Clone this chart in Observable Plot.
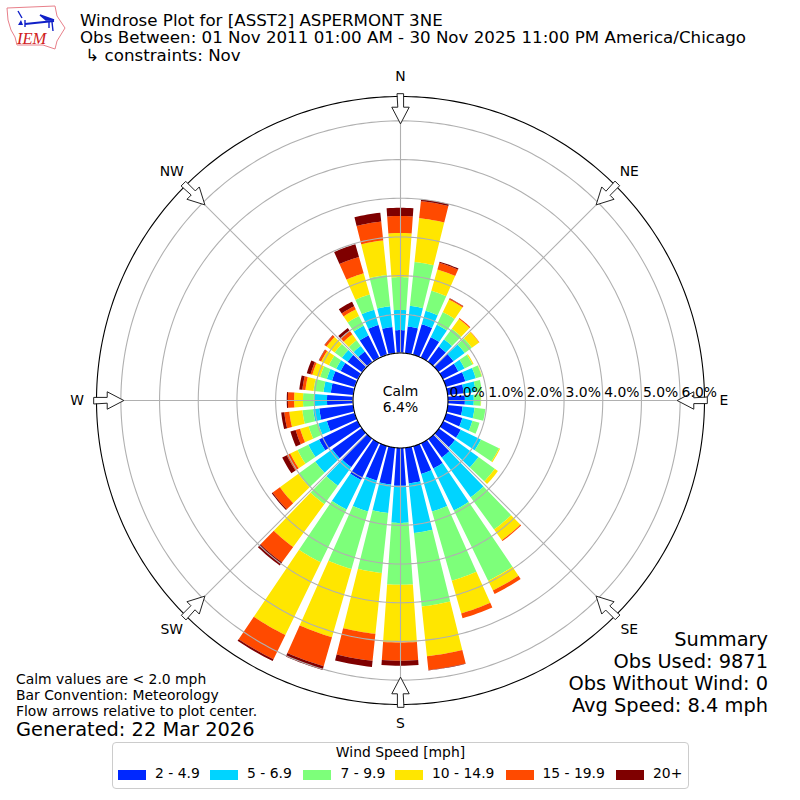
<!DOCTYPE html>
<html><head><meta charset="utf-8">
<script src="https://cdn.jsdelivr.net/npm/d3@7"></script>
<script src="https://cdn.jsdelivr.net/npm/@observablehq/plot@0.6"></script>
<style>
html,body{margin:0;padding:0;background:#fff}
#wrap{position:relative;width:800px;height:800px;font-family:"DejaVu Sans",sans-serif;color:#000;overflow:hidden}
#wrap svg{display:block}
.t{position:absolute;white-space:pre;line-height:1}
#legend{position:absolute;left:112px;top:742px;width:575px;height:45px;border:1px solid #ccc;border-radius:4px;background:#fff}
.sw{position:absolute;top:27px;width:28px;height:10px}
</style></head><body><div id="wrap"></div>
<script>
const directions = d3.range(0, 360, 10);
const speedBands = ["2 - 4.9","5 - 6.9","7 - 9.9","10 - 14.9","15 - 19.9","20+"];
const bandColors = ["#0028ff","#00d4ff","#7dff7a","#ffe600","#ff4a00","#7f0000"];
const s2to5   = [.58,.68,.81,.58,.48,.48,.45,.53,.43,.45,.40,.45,.52,.53,.61,.74,.76,.94,.99,.97,.94,1.07,.92,.94,1.10,.74,.87,.66,.57,.60,.48,.45,.32,.63,.79,.67];
const s5to7   = [.52,.54,.36,.36,.23,.36,.18,.28,.31,.23,.31,.27,.58,.75,1.27,1.21,1.01,1.29,.96,.74,.83,.85,.59,.54,.31,.23,.16,.34,.19,.14,.13,.18,.18,.28,.41,.54];
const s7to10  = [.85,1.14,.54,.36,.34,.23,.23,.16,.16,.18,.28,.19,.52,.52,1.03,2.02,1.86,1.91,1.60,1.56,1.55,1.52,.59,.54,.31,.26,.28,.28,.26,.18,.21,.23,.18,.28,.41,.81];
const s10to15 = [1.14,1.14,.57,.36,.31,.23,.03,.01,0,.01,0,0,.03,.10,.34,.28,.88,1.29,1.49,1.58,1.83,2.09,1.37,.59,.21,.23,.34,.23,.21,.21,.22,.26,.19,.19,.57,.90];
const s15to20 = [.44,.44,.18,.03,.03,.01,0,0,0,0,0,0,0,0,.03,.10,.13,.36,.47,.70,.78,.70,.49,.23,.10,.12,.13,.16,.08,.05,.06,.06,.12,.09,.44,.49];
const s20plus = [.21,.05,.03,.01,0,0,0,0,0,0,0,0,0,0,0,0,0,.01,.13,.16,.10,.05,.10,.03,.13,.14,.08,.03,.08,.10,.01,.01,.08,.13,.34,.23];
const radialTicks = [0,1,2,3,4,5,6];
const compass = [["N",0],["NE",45],["E",90],["SE",135],["S",180],["SW",225],["W",270],["NW",315]];
const titleLines = ["Windrose Plot for [ASST2] ASPERMONT 3NE","Obs Between: 01 Nov 2011 01:00 AM - 30 Nov 2025 11:00 PM America/Chicago"," ↳ constraints: Nov"];
const noteLines = ["Calm values are < 2.0 mph","Bar Convention: Meteorology","Flow arrows relative to plot center."];
const generated = "Generated: 22 Mar 2026";
const summaryLines = ["Summary","Obs Used: 9871","Obs Without Wind: 0","Avg Speed: 8.4 mph"];
const calmLines = ["Calm","6.4%"];
const legendTitle = "Wind Speed [mph]";

const series = [s2to5,s5to7,s7to10,s10to15,s15to20,s20plus];
const hole = 1.227, rMax = 6.63 + hole, barWidth = 8;
const rad = d => d * Math.PI / 180;
const px = (r,a) => (r) * Math.sin(rad(a));
const py = (r,a) => (r) * Math.cos(rad(a));

const wedges = [];
directions.forEach((dir,i) => {
  let base = 0;
  series.forEach((s,k) => {
    const v = s[i];
    if (v > 0) {
      for (let a = -barWidth/2; a <= barWidth/2; a += 1) {
        const th = dir + a;
        wedges.push({id:dir+"-"+k, band:speedBands[k],
          x1:px(hole+base,th), y1:py(hole+base,th),
          x2:px(hole+base+v,th), y2:py(hole+base+v,th)});
      }
    }
    base += v;
  });
});
const circle = (r,id) => d3.range(0,361,1).map(a => ({id, x:px(r,a), y:py(r,a)}));
const rings = radialTicks.slice(1).flatMap(v => circle(hole+v,v));
const spokes = compass.map(([n,a]) => ({x1:px(hole,a),y1:py(hole,a),x2:px(rMax,a),y2:py(rMax,a)}));
// hollow compass arrows: [radial position, sideways offset] in axis units
const arrowShape = [[7.93,-.08],[7.93,.08],[7.58,.08],[7.58,.225],[7.15,0],[7.58,-.225],[7.58,-.08]];
const arrows = compass.flatMap(([n,a]) => arrowShape.map(([r,o]) => ({id:n,
  x: r*Math.sin(rad(a)) + o*Math.cos(rad(a)),
  y: r*Math.cos(rad(a)) - o*Math.sin(rad(a))})));
const compassLabels = compass.map(([n,a]) => ({n, x:px(8.36,a), y:py(8.36,a)}));

const chart = Plot.plot({
  width:800, height:800, margin:0,
  style:{background:"transparent", fontFamily:"'DejaVu Sans',sans-serif"},
  x:{domain:[-rMax,rMax], range:[96,704], axis:null},
  y:{domain:[-rMax,rMax], range:[704,96], axis:null},
  color:{domain:speedBands, range:bandColors},
  marks:[
    Plot.area(wedges,{x1:"x1",y1:"y1",x2:"x2",y2:"y2",z:"id",fill:"band",curve:"linear"}),
    Plot.line(rings,{x:"x",y:"y",z:"id",stroke:"#b0b0b0",strokeWidth:1.1}),
    Plot.link(spokes,{x1:"x1",y1:"y1",x2:"x2",y2:"y2",stroke:"#b0b0b0",strokeWidth:1.1}),
    Plot.line(circle(rMax,"outer"),{x:"x",y:"y",stroke:"#000",strokeWidth:1.1}),
    Plot.line(circle(hole,"hole"),{x:"x",y:"y",stroke:"#000",strokeWidth:1.1,fill:"#fff"}),
    Plot.line(arrows,{x:"x",y:"y",z:"id",curve:"linear-closed",fill:"#fff",stroke:"#222",strokeWidth:1}),
    Plot.text(radialTicks,{x:v=>hole+v,y:()=>0,text:v=>v.toFixed(1)+"%",textAnchor:"start",dx:1.5,dy:-8,fontSize:13.9,fill:"#000"}),
    Plot.text(compassLabels,{x:"x",y:"y",text:"n",fontSize:13.9,fill:"#000"}),
    Plot.text(calmLines,{x:()=>0,y:(d,i)=>i?-0.18:0.23,text:d=>d,fontSize:13.9,fill:"#000"})
  ]
});
const wrap = document.getElementById("wrap");
wrap.appendChild(chart);

function addText(str, opts){
  const d = document.createElement("div");
  d.className = "t"; d.textContent = str;
  d.style.fontSize = opts.size+"px";
  d.style.top = (opts.cy - opts.size/2)+"px";
  if (opts.right!=null) d.style.right = opts.right+"px"; else d.style.left = opts.left+"px";
  (opts.parent||wrap).appendChild(d);
}
[21,38.5,56].forEach((cy,i)=>addText(titleLines[i],{size:16.68,cy,left:80}));
[680,696,712].forEach((cy,i)=>addText(noteLines[i],{size:13.9,cy,left:16}));
addText(generated,{size:19.4,cy:730,left:16});
[640,662,684,706].forEach((cy,i)=>addText(summaryLines[i],{size:19.4,cy,right:32}));

const lg = document.createElement("div"); lg.id="legend"; wrap.appendChild(lg);
const tt = document.createElement("div"); tt.className="t"; tt.textContent=legendTitle;
tt.style.cssText="font-size:13.9px;top:3px;left:0;width:575px;text-align:center"; lg.appendChild(tt);
const swX=[5,97,190,282,393,503], lbX=[42,134,227.5,319,429.4,540];
speedBands.forEach((b,i)=>{
  const s=document.createElement("div"); s.className="sw"; s.style.left=swX[i]+"px"; s.style.background=bandColors[i]; lg.appendChild(s);
  addText(b,{size:13.9,cy:31,left:lbX[i],parent:lg});
});

// station logo
const logo = document.createElement("div");
logo.style.cssText="position:absolute;left:0;top:0";
logo.innerHTML=`<svg width="70" height="52" xmlns="http://www.w3.org/2000/svg">
<path d="M7 8 L55 6 L57 16 L65 28 L57 41 L55 49 L43 45 L17 45 L15 37 L11 30 L8 20 Z" fill="#fff" stroke="#e8808a" stroke-width="1"/>
<path d="M25 24 L54 21" stroke="#1020c8" stroke-width="2" fill="none"/>
<path d="M25 20 L25 27 M18 11 L22 18 M40 15 L54 20 L46 20 Z M49 22 L49 28 M52 22 L53 31" stroke="#1020c8" stroke-width="1.4" fill="#1020c8"/>
<path d="M18 25 L21 20 L23 25 Z" fill="#1020c8"/>
<text x="17" y="44" font-family="Liberation Serif" font-style="italic" font-size="16.5" fill="#d02020">IEM</text>
</svg>`;
wrap.appendChild(logo);
</script></body></html>
